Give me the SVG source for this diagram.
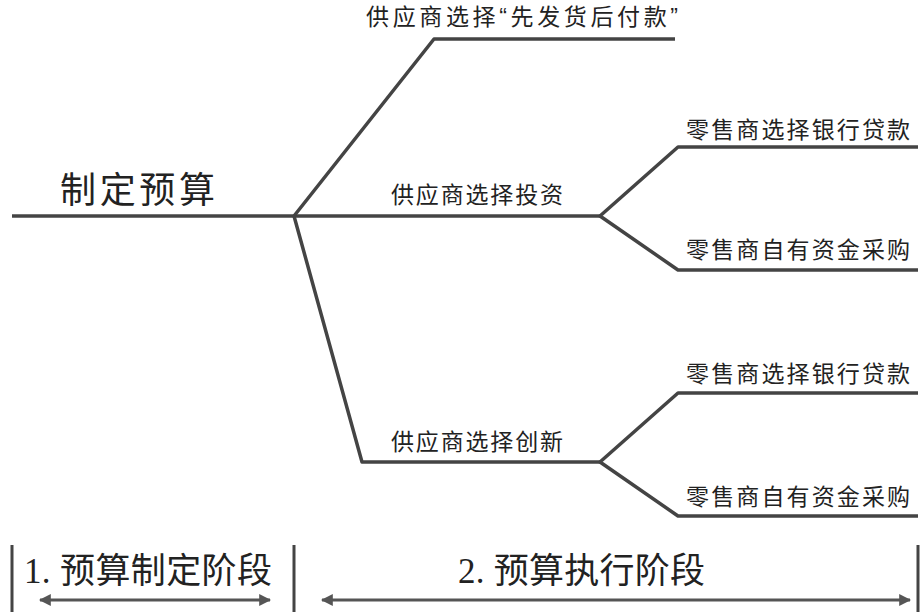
<svg xmlns="http://www.w3.org/2000/svg" width="923" height="612" viewBox="0 0 923 612">
<style>
.l{fill:none;stroke:#444;stroke-width:3.5;stroke-linejoin:round}
.t{font-family:"Liberation Sans","Noto Sans CJK SC",sans-serif;font-size:23px;fill:#222}
.s{font-family:"Liberation Serif","Noto Sans CJK SC",serif;font-size:35px;fill:#222}
.a{stroke:#555;stroke-width:3;marker-start:url(#m);marker-end:url(#m)}
</style>
<defs><marker id="m" viewBox="0 0 10 10" refX="9" refY="5" markerWidth="4" markerHeight="4" orient="auto-start-reverse"><path d="M0,0L10,5L0,10z" fill="#555"/></marker></defs>
<g id="connectors">
<path class="l" d="M12,216H600"/>
<path class="l" d="M294,216L434,39H675"/>
<path class="l" d="M294,216L362,462H600"/>
<path class="l" d="M918,147H678L600,216L678,270H918"/>
<path class="l" d="M918,393H678L600,462L678,516H918"/>
<path class="l" d="M12,545V612M294,545V612M918,545V612" style="stroke-width:3"/>
<line class="a" x1="40" y1="600" x2="270" y2="600"/>
<line class="a" x1="322" y1="600" x2="910" y2="600"/>
</g>
<g id="root"><text class="t" x="60" y="203" style="font-size:36px" textLength="155">制定预算</text></g>
<g id="n1"><text class="t" x="366" y="25" textLength="312">供应商选择“先发货后付款”</text></g>
<g id="n2"><text class="t" x="391" y="203" textLength="172">供应商选择投资</text></g>
<g id="n3"><text class="t" x="391" y="450" textLength="172">供应商选择创新</text></g>
<g id="n4"><text class="t" x="686" y="138" textLength="224">零售商选择银行贷款</text></g>
<g id="n5"><text class="t" x="686" y="258" textLength="224">零售商自有资金采购</text></g>
<g id="n6"><text class="t" x="686" y="382" textLength="224">零售商选择银行贷款</text></g>
<g id="n7"><text class="t" x="686" y="505" textLength="224">零售商自有资金采购</text></g>
<g id="phases">
<text class="s" x="24" y="583" textLength="248">1. 预算制定阶段</text>
<text class="s" x="458" y="583" textLength="247">2. 预算执行阶段</text>
</g>
</svg>
